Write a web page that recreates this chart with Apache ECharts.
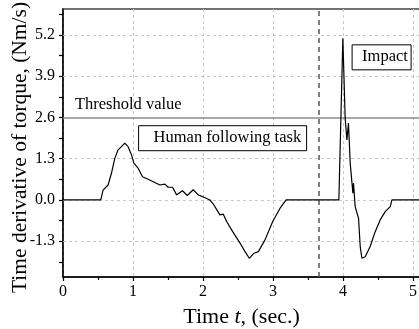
<!DOCTYPE html>
<html>
<head>
<meta charset="utf-8">
<script src="https://cdn.jsdelivr.net/npm/echarts@6/dist/echarts.min.js"></script>
<style>
html,body{margin:0;padding:0;background:#fff;}
#chart{width:419px;height:329px;}
</style>
</head>
<body>
<div id="chart"></div>
<script>
// time (s)
var timeValues = [0, 0.54, 0.572, 0.644, 0.692, 0.740, 0.787, 0.835, 0.883, 0.930, 0.979, 1.012, 1.073, 1.136, 1.216, 1.312, 1.384, 1.455, 1.503, 1.565, 1.623, 1.708, 1.775, 1.860, 1.932, 2.013, 2.099, 2.147, 2.242, 2.290, 2.338, 2.424, 2.529, 2.600, 2.662, 2.729, 2.791, 2.886, 2.996, 3.101, 3.187, 3.941, 3.998, 4.031, 4.056, 4.078, 4.093, 4.103, 4.127, 4.141, 4.150, 4.174, 4.199, 4.222, 4.246, 4.270, 4.317, 4.388, 4.460, 4.531, 4.603, 4.675, 4.699, 5.1];
// time derivative of torque (Nm/s)
var torqueRate = [0, 0, 0.31, 0.47, 0.84, 1.31, 1.58, 1.68, 1.79, 1.68, 1.42, 1.16, 1.00, 0.73, 0.65, 0.55, 0.47, 0.50, 0.40, 0.40, 0.16, 0.29, 0.14, 0.32, 0.16, 0.085, 0, -0.13, -0.47, -0.45, -0.68, -1.00, -1.36, -1.63, -1.84, -1.68, -1.63, -1.26, -0.68, -0.26, 0, 0, 5.10, 2.57, 1.89, 2.42, 1.68, 1.16, 1.10, 0.21, 0.53, -0.21, -0.16, -0.58, -1.47, -1.84, -1.79, -1.47, -1.00, -0.63, -0.37, -0.21, 0, 0];
var yTickLabels = [-1.3, 0, 1.3, 2.6, 3.9, 5.2];
var yGridValues = [-1.3, 0, 1.3, 3.9, 5.2];
var yMinorTicks = [-1.95, -1.3, -0.65, 0, 0.65, 1.3, 1.95, 2.6, 3.25, 3.9, 4.55, 5.2, 5.85];
var thresholdValue = 2.6;
var impactTime = 3.65;

var FONT = '"Liberation Serif", "Times New Roman", serif';
var data = timeValues.map(function (t, i) { return [t, torqueRate[i]]; });

var chart = echarts.init(document.getElementById('chart'), null, {renderer: 'canvas'});
chart.setOption({
  animation: false,
  backgroundColor: '#fff',
  grid: {left: 63, top: 9, width: 357, height: 268, containLabel: false, outerBoundsMode: 'none',
    show: true, borderColor: '#444', borderWidth: 1.5, backgroundColor: 'transparent'},
  xAxis: {
    type: 'value', min: 0, max: 5.1, interval: 1,
    name: '{n|Time }{i|t}{n|, (sec.)}', nameLocation: 'middle', nameGap: 29, nameMoveOverlap: false,
    nameTextStyle: {rich: {n: {fontFamily: FONT, fontSize: 22, color: '#000'}, i: {fontFamily: FONT, fontSize: 22, fontStyle: 'italic', color: '#000'}}},
    axisLine: {show: true, onZero: false, lineStyle: {color: '#000', width: 1.5}},
    axisTick: {show: true, length: 4, inside: false, lineStyle: {color: '#000', width: 1.2}},
    minorTick: {show: true, splitNumber: 2, length: 3, lineStyle: {color: '#000', width: 1.2}},
    axisLabel: {fontFamily: FONT, fontSize: 16, color: '#000', margin: 7,
      formatter: function (v) { return Math.abs(v - Math.round(v)) < 1e-6 ? String(Math.round(v)) : ''; }},
    splitLine: {show: true, lineStyle: {color: '#c8c8c8', type: [3, 3], width: 1}}
  },
  yAxis: {
    type: 'value', min: -2.43, max: 6.02,
    name: 'Time derivative of torque, (Nm/s)', nameLocation: 'middle', nameGap: 32, nameRotate: 90, nameMoveOverlap: false,
    nameTextStyle: {fontFamily: FONT, fontSize: 21.5, color: '#000', padding: [0, 9, 0, 0]},
    axisLine: {show: true, onZero: false, lineStyle: {color: '#000', width: 1.5}},
    axisTick: {show: true, length: 4, inside: false, customValues: yMinorTicks, lineStyle: {color: '#000', width: 1.2}},
    axisLabel: {fontFamily: FONT, fontSize: 16, color: '#000', margin: 8, customValues: yTickLabels,
      formatter: function (v) { return v.toFixed(1); }},
    splitLine: {show: false}
  },
  series: [
    {
      type: 'line', data: [], silent: true,
      markLine: {
        silent: true, symbol: ['none', 'none'], label: {show: false},
        lineStyle: {color: '#c8c8c8', type: [3, 3], width: 1},
        data: yGridValues.map(function (v) { return {yAxis: v}; })
      }
    },
    {
      type: 'line', data: [], silent: true,
      markLine: {
        silent: true, symbol: ['none', 'none'], label: {show: false},
        data: [
          {yAxis: thresholdValue, lineStyle: {color: '#8c8c8c', type: 'solid', width: 1.5}},
          {xAxis: impactTime, lineStyle: {color: '#555', type: [5, 4], width: 1.5}}
        ]
      }
    },
    {
      type: 'line', data: data, showSymbol: false, symbol: 'none', smooth: false,
      lineStyle: {color: '#000', width: 1.2}, z: 5
    }
  ]
});

function px(x, y) { return chart.convertToPixel({gridIndex: 0}, [x, y]); }
var thr = px(0.17, thresholdValue);
var hb = px(1.08, 2.34);
var ib = px(4.13, 4.89);
chart.setOption({
  graphic: [
    {type: 'text', x: thr[0], y: thr[1] - 21, style: {text: 'Threshold value', font: '16.5px ' + FONT, fill: '#000'}},
    {type: 'rect', shape: {x: hb[0], y: hb[1], width: 168, height: 25}, style: {fill: '#fff', stroke: '#000', lineWidth: 1}, z: 10},
    {type: 'text', x: hb[0] + 15, y: hb[1] + 3, style: {text: 'Human following task', font: '16.5px ' + FONT, fill: '#000'}, z: 11},
    {type: 'rect', shape: {x: ib[0], y: ib[1], width: 59, height: 25}, style: {fill: '#fff', stroke: '#000', lineWidth: 1}, z: 10},
    {type: 'text', x: ib[0] + 10, y: ib[1] + 3, style: {text: 'Impact', font: '16.5px ' + FONT, fill: '#000'}, z: 11}
  ]
});
</script>
</body>
</html>
